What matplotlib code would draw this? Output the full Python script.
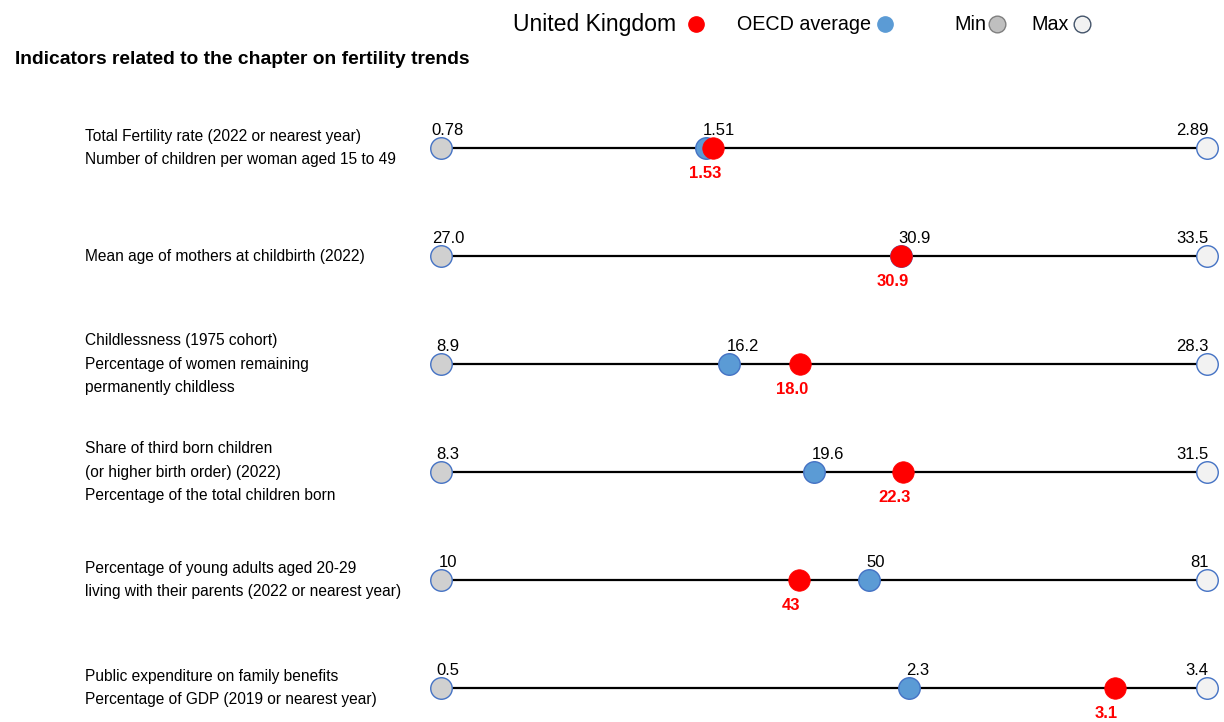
import matplotlib
matplotlib.use('Agg')
import matplotlib.pyplot as plt
import matplotlib.transforms as mtransforms
from matplotlib.lines import Line2D

### data ###
row_labels = [
    'Total Fertility rate (2022 or nearest year)\nNumber of children per woman aged 15 to 49',
    'Mean age of mothers at childbirth (2022)',
    'Childlessness (1975 cohort)\nPercentage of women remaining\npermanently childless',
    'Share of third born children\n(or higher birth order) (2022)\nPercentage of the total children born',
    'Percentage of young adults aged 20-29\nliving with their parents (2022 or nearest year)',
    'Public expenditure on family benefits\nPercentage of GDP (2019 or nearest year)',
]
min_vals = [0.78, 27.0, 8.9, 8.3, 10, 0.5]
max_vals = [2.89, 33.5, 28.3, 31.5, 81, 3.4]
oecd_vals = [1.51, 30.9, 16.2, 19.6, 49.7, 2.27]
uk_vals = [1.53, 30.9, 18.0, 22.3, 43.2, 3.05]
min_txt = ['0.78', '27.0', '8.9', '8.3', '10', '0.5']
max_txt = ['2.89', '33.5', '28.3', '31.5', '81', '3.4']
oecd_txt = ['1.51', '30.9', '16.2', '19.6', '50', '2.3']
uk_txt = ['1.53', '30.9', '18.0', '22.3', '43', '3.1']

### general plot configurations ###
plt.rcParams['font.family'] = ['Liberation Sans', 'DejaVu Sans']
plt.rcParams['font.size'] = 12

W, H = 1224, 722
fig = plt.figure(figsize=(W / 100, H / 100), dpi=100)
# x: 0..1 normalised between min and max of each indicator
ax = fig.add_axes([441 / W, 0, 766 / W, 1])
ax.set_xlim(0, 1)
ax.set_ylim((H - 148) / 108, -148 / 108)
ax.axis('off')

c_min, c_max = '#d0d0d0', '#f2f2f2'
c_edge = '#4472c4'
c_oecd = '#5b9bd5'
c_uk = '#ff0000'
ms = 15.5

trans = mtransforms.blended_transform_factory(fig.transFigure, ax.transData)

for i in range(len(row_labels)):
    span = max_vals[i] - min_vals[i]
    x_oecd = (oecd_vals[i] - min_vals[i]) / span
    x_uk = (uk_vals[i] - min_vals[i]) / span

    ax.plot([0, 1], [i, i], color='k', linewidth=1.6, zorder=1)
    ax.plot(0, i, 'o', ms=ms, mfc=c_min, mec=c_edge, mew=1, zorder=2, clip_on=False)
    ax.plot(1, i, 'o', ms=ms, mfc=c_max, mec=c_edge, mew=1, zorder=2, clip_on=False)
    ax.plot(x_oecd, i, 'o', ms=ms, mfc=c_oecd, mec=c_edge, mew=1, zorder=3, clip_on=False)
    ax.plot(x_uk, i, 'o', ms=ms, mfc=c_uk, mec=c_uk, mew=0.5, zorder=4, clip_on=False)

    ax.annotate(min_txt[i], (0, i), xytext=(5, 7), textcoords='offset points',
                ha='center', va='bottom', fontsize=12)
    ax.annotate(max_txt[i], (1, i), xytext=(1, 7), textcoords='offset points',
                ha='right', va='bottom', fontsize=12)
    ax.annotate(oecd_txt[i], (x_oecd, i), xytext=(-2, 7), textcoords='offset points',
                ha='left', va='bottom', fontsize=12)
    ax.annotate(uk_txt[i], (x_uk, i), xytext=(-6, -13), textcoords='offset points',
                ha='center', va='top', fontsize=12, fontweight='bold', color=c_uk)

    ax.text(85 / W, i, row_labels[i], transform=trans, ha='left', va='center',
            fontsize=11.2, linespacing=1.72)

fig.text(15 / W, 1 - 60 / H, 'Indicators related to the chapter on fertility trends',
         ha='left', va='center', fontsize=13.9, fontweight='bold')

# legend
leg_y = 1 - 24 / H
fig.text(513 / W, leg_y, 'United Kingdom', ha='left', va='center', fontsize=16.6)
fig.text(737 / W, leg_y, 'OECD average', ha='left', va='center', fontsize=14.2)
fig.text(954 / W, leg_y, 'Min', ha='left', va='center', fontsize=14.2)
fig.text(1031 / W, leg_y, 'Max', ha='left', va='center', fontsize=14.2)
fig.add_artist(Line2D([696 / W], [leg_y], marker='o', ms=11, mfc=c_uk, mec=c_uk,
                      transform=fig.transFigure))
fig.add_artist(Line2D([885 / W], [leg_y], marker='o', ms=11, mfc=c_oecd, mec=c_oecd,
                      transform=fig.transFigure))
fig.add_artist(Line2D([997 / W], [leg_y], marker='o', ms=12, mfc='#bfbfbf', mec='#7f7f7f',
                      mew=1, transform=fig.transFigure))
fig.add_artist(Line2D([1082 / W], [leg_y], marker='o', ms=12, mfc=c_max, mec='#44546a',
                      mew=1, transform=fig.transFigure))

fig.savefig('out.png', dpi=100)
